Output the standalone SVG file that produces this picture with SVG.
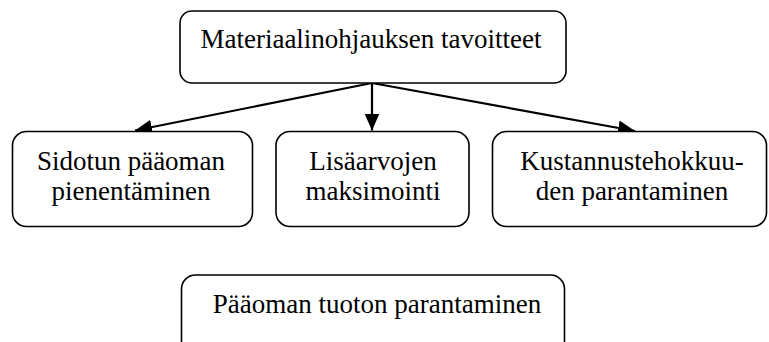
<svg xmlns="http://www.w3.org/2000/svg" width="769" height="342" viewBox="0 0 769 342">
  <style>
    .box { fill: #ffffff; stroke: #000000; stroke-width: 1.6; }
    .lbl { font-family: "Liberation Serif", "Times New Roman", serif; font-size: 27px; fill: #000000; text-anchor: middle; }
    .edge { stroke: #000000; stroke-width: 2.2; fill: none; marker-end: url(#arrow); }
  </style>
  <defs>
    <marker id="arrow" markerUnits="userSpaceOnUse" markerWidth="17" markerHeight="15" viewBox="0 0 17 15" refX="17" refY="7.5" orient="auto">
      <path d="M0,0 L17,7.5 L0,15 Z" fill="#000000"/>
    </marker>
  </defs>
  <rect width="769" height="342" fill="#ffffff"/>

  <g id="connectors">
    <line class="edge" x1="372" y1="83" x2="135" y2="130.5"/>
    <line class="edge" x1="372" y1="83" x2="372" y2="130.5"/>
    <line class="edge" x1="372" y1="83" x2="635" y2="131"/>
  </g>

  <g id="goals">
    <rect class="box" x="180" y="11" width="386" height="72" rx="12"/>
    <text class="lbl" x="371" y="48">Materiaalinohjauksen tavoitteet</text>
  </g>

  <g id="capital">
    <rect class="box" x="12.5" y="131.5" width="240" height="95" rx="14"/>
    <text class="lbl" x="131" y="170">Sidotun pääoman</text>
    <text class="lbl" x="131" y="200">pienentäminen</text>
  </g>

  <g id="value">
    <rect class="box" x="276" y="131.5" width="193" height="95" rx="14"/>
    <text class="lbl" x="373" y="170">Lisäarvojen</text>
    <text class="lbl" x="373" y="200">maksimointi</text>
  </g>

  <g id="cost">
    <rect class="box" x="492.5" y="131.5" width="274" height="95" rx="14"/>
    <text class="lbl" x="632" y="170">Kustannustehokkuu-</text>
    <text class="lbl" x="632" y="200">den parantaminen</text>
  </g>

  <g id="return">
    <rect class="box" x="181.5" y="275" width="383" height="90" rx="14"/>
    <text class="lbl" x="377" y="313">Pääoman tuoton parantaminen</text>
  </g>
</svg>
